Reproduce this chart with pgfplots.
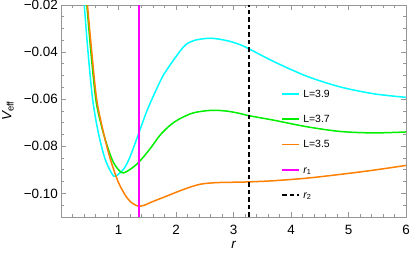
\documentclass[border=0pt]{standalone}
\usepackage{fontspec}
\setmainfont{Liberation Sans}
\usepackage{pgfplots}
\pgfplotsset{compat=1.18}
\definecolor{framegray}{RGB}{150,150,150}
\definecolor{mcyan}{RGB}{0,255,255}
\definecolor{mgreen}{RGB}{0,238,0}
\definecolor{morange}{RGB}{255,128,0}
\definecolor{mmag}{RGB}{255,0,255}
\newcommand{\lstrut}{\rule[-2bp]{0pt}{10bp}}
\begin{document}
\begin{tikzpicture}
\begin{axis}[
  scale only axis, width=345bp, height=212bp,
  xmin=0, xmax=6, ymin=-0.11, ymax=-0.02,
  axis line style={framegray, line width=0.8bp},
  tick style={framegray, line width=0.8bp},
  tick align=inside,
  major tick length=4.5bp, minor tick length=2.5bp,
  xtick={0,1,2,3,4,5,6}, xticklabels={,1,2,3,4,5,6},
  ytick={-0.10,-0.08,-0.06,-0.04,-0.02},
  yticklabels={−0.10,−0.08,−0.06,−0.04,−0.02},
  minor xtick={0.2,0.4,0.6,0.8,1.2,1.4,1.6,1.8,2.2,2.4,2.6,2.8,3.2,3.4,3.6,3.8,4.2,4.4,4.6,4.8,5.2,5.4,5.6,5.8},
  minor ytick={-0.105,-0.095,-0.09,-0.085,-0.075,-0.07,-0.065,-0.055,-0.05,-0.045,-0.035,-0.03,-0.025},
  ticklabel style={font=\fontsize{13.5}{16}\selectfont, text=black},
  xticklabel style={inner sep=0pt, anchor=north, yshift=-8bp},
  yticklabel style={inner sep=0pt, anchor=east, xshift=-3bp},
  xlabel={\itshape r},
  ylabel={{\itshape V}\textsubscript{eff}},
  label style={font=\fontsize{13.5}{16}\selectfont},
  xlabel style={at={(axis description cs:0.5,-0.132)}, anchor=center},
  ylabel style={at={(axis description cs:-0.154,0.5)}, anchor=center},
  legend style={draw=none, fill=none, at={(0.6385,0.342)}, anchor=west,
    inner sep=0pt, outer sep=0pt, row sep=11.8bp, column sep=1.5bp,
    font=\fontsize{10.5}{12}\selectfont},
  legend cell align=left,
]
\addplot[mcyan, line width=1.5bp, smooth] coordinates {
(0.36,-0.005) (0.405,-0.02) (0.47,-0.04) (0.55,-0.060) (0.65,-0.0743) (0.77,-0.0856)
(0.913,-0.0926) (1.0,-0.0918) (1.1,-0.0893) (1.2,-0.0845) (1.355,-0.0743) (1.51,-0.064)
(1.725,-0.0524) (1.84,-0.0475) (2.13,-0.0378) (2.31,-0.0351) (2.6,-0.0341) (2.9,-0.0352)
(3.12,-0.0369) (3.27,-0.0386) (3.70,-0.0440) (4.28,-0.0503) (4.86,-0.0548) (5.44,-0.0577) (6.0,-0.0592)
};
\addlegendentry{\lstrut L=3.9}
\addplot[mgreen, line width=1.5bp, smooth] coordinates {
(0.40,-0.005) (0.45,-0.02) (0.52,-0.04) (0.605,-0.060) (0.70,-0.0710) (0.8,-0.0795)
(0.915,-0.0870) (1.06,-0.0912) (1.2,-0.0898) (1.355,-0.0867) (1.55,-0.0810) (1.725,-0.0752)
(1.9,-0.0710) (2.05,-0.0685) (2.3,-0.0658) (2.62,-0.0647) (2.9,-0.0651) (3.12,-0.0661)
(3.27,-0.0670) (3.70,-0.0689) (4.28,-0.0717) (4.86,-0.0737) (5.44,-0.0743) (6.0,-0.0739)
};
\addlegendentry{\lstrut L=3.7}
\addplot[morange, line width=1.5bp, smooth] coordinates {
(0.41,-0.005) (0.46,-0.02) (0.535,-0.04) (0.62,-0.060) (0.74,-0.0743) (0.86,-0.0856)
(1.0,-0.0954) (1.146,-0.1018) (1.25,-0.1043) (1.35,-0.1054) (1.45,-0.1050) (1.55,-0.1039)
(1.725,-0.1022) (1.84,-0.1011) (2.13,-0.0983) (2.42,-0.0961) (2.71,-0.0954) (3.12,-0.0952)
(3.27,-0.0951) (3.70,-0.0946) (4.28,-0.0935) (4.86,-0.0919) (5.44,-0.0901) (6.0,-0.0881)
};
\addlegendentry{\lstrut L=3.5}
\addplot[mmag, line width=1.5bp] coordinates {(1.355,-0.11) (1.355,-0.02)};
\addlegendentry{\lstrut{\itshape r}\textsubscript{1}}
\addplot[black, line width=1.3bp, dash pattern=on 4.5bp off 3bp] coordinates {(3.27,-0.11) (3.27,-0.02)};
\addlegendentry{\lstrut{\itshape r}\textsubscript{2}}
\end{axis}
\pgfresetboundingbox
\useasboundingbox (-61bp,-42bp) rectangle (349bp,217bp);
\end{tikzpicture}
\end{document}
